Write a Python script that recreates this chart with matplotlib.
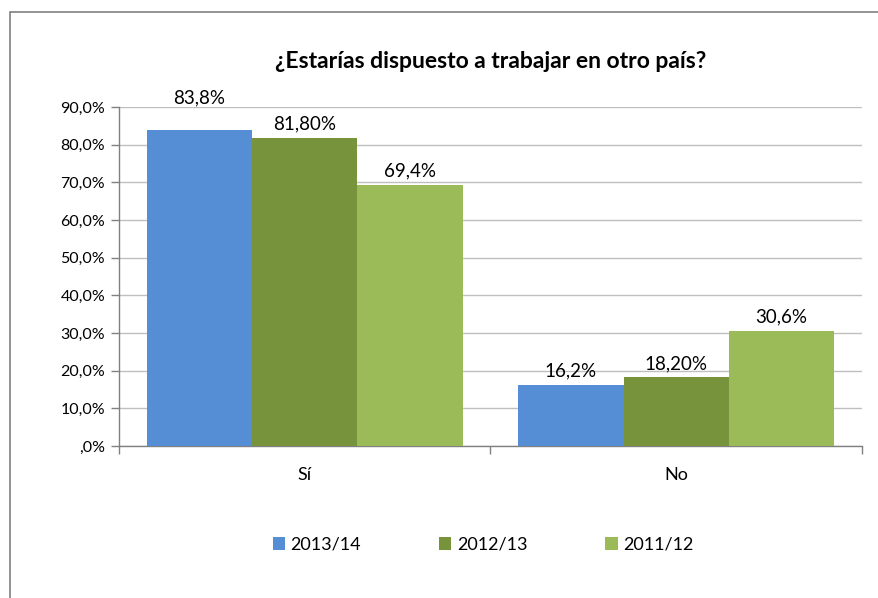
import matplotlib
matplotlib.use("Agg")
import matplotlib.pyplot as plt
from matplotlib.patches import Rectangle
import numpy as np

categories = ["Sí", "No"]
series_names = ["2013/14", "2012/13", "2011/12"]
values = [
    [83.8, 16.2],
    [81.8, 18.2],
    [69.4, 30.6],
]
value_labels = [
    ["83,8%", "16,2%"],
    ["81,80%", "18,20%"],
    ["69,4%", "30,6%"],
]
yticks = [0, 10, 20, 30, 40, 50, 60, 70, 80, 90]
ytick_labels = [",0%", "10,0%", "20,0%", "30,0%", "40,0%", "50,0%", "60,0%", "70,0%", "80,0%", "90,0%"]
colors = ["#558ED5", "#77933C", "#9BBB59"]
# label offsets in points (style)
label_offsets = [[17, 4], [4, 4], [4, 4]]

plt.rcParams['font.family'] = ['Lato', 'DejaVu Sans']

W, H = 879, 598
fig = plt.figure(figsize=(W / 100, H / 100), dpi=100)

fig.patches.append(Rectangle((10 / W, -0.01), 1.0, 1 - 12 / H + 0.01, transform=fig.transFigure,
                             fill=False, edgecolor="#808080", linewidth=1.2))

ax_left, ax_right = 119 / W, 862 / W
ax_bottom, ax_top = 1 - 446 / H, 1 - 107 / H
ax = fig.add_axes([ax_left, ax_bottom, ax_right - ax_left, ax_top - ax_bottom])

n = len(series_names)
group_w = 0.851
bar_w = group_w / n
x = np.arange(len(categories))
for i in range(n):
    offs = x - group_w / 2 + bar_w * (i + 0.5)
    bars = ax.bar(offs, values[i], width=bar_w, color=colors[i], edgecolor="none",
                  label=series_names[i], zorder=3)
    for j, (b, lab) in enumerate(zip(bars, value_labels[i])):
        ax.annotate(lab, (b.get_x() + b.get_width() / 2, b.get_height()),
                    xytext=(0, label_offsets[i][j]), textcoords="offset points", ha="center", va="bottom",
                    fontsize=13.5, color="#000000")

ax.set_xlim(-0.5, len(categories) - 0.5)
ax.set_ylim(0, 90)
ax.set_yticks(yticks)
ax.set_yticklabels(ytick_labels, fontsize=11.5)
ax.yaxis.grid(True, color="#BFBFBF", linewidth=1.0, zorder=0)
ax.set_axisbelow(True)

ax.set_xticks(x)
ax.set_xticklabels(categories, fontsize=13)
ax.tick_params(axis="x", length=0, pad=15)
ax.set_xticks([-0.5, 0.5, 1.5], minor=True)
ax.tick_params(axis="x", which="minor", length=6, color="#808080", width=1)
ax.tick_params(axis="y", length=6, color="#808080", width=1, pad=4)

for s in ["top", "right"]:
    ax.spines[s].set_visible(False)
for s in ["left", "bottom"]:
    ax.spines[s].set_color("#808080")
    ax.spines[s].set_linewidth(1.0)

fig.text(491 / W, 1 - 62 / H, "¿Estarías dispuesto a trabajar en otro país?", ha="center", va="center",
         fontsize=16.5, fontweight="bold")

leg = fig.legend(loc="center", bbox_to_anchor=(483 / W, 1 - 545 / H), ncol=3, frameon=False,
                 fontsize=13, handlelength=0.7, handleheight=0.7, handletextpad=0.3, columnspacing=4.3)

fig.savefig("out.png", dpi=100)
